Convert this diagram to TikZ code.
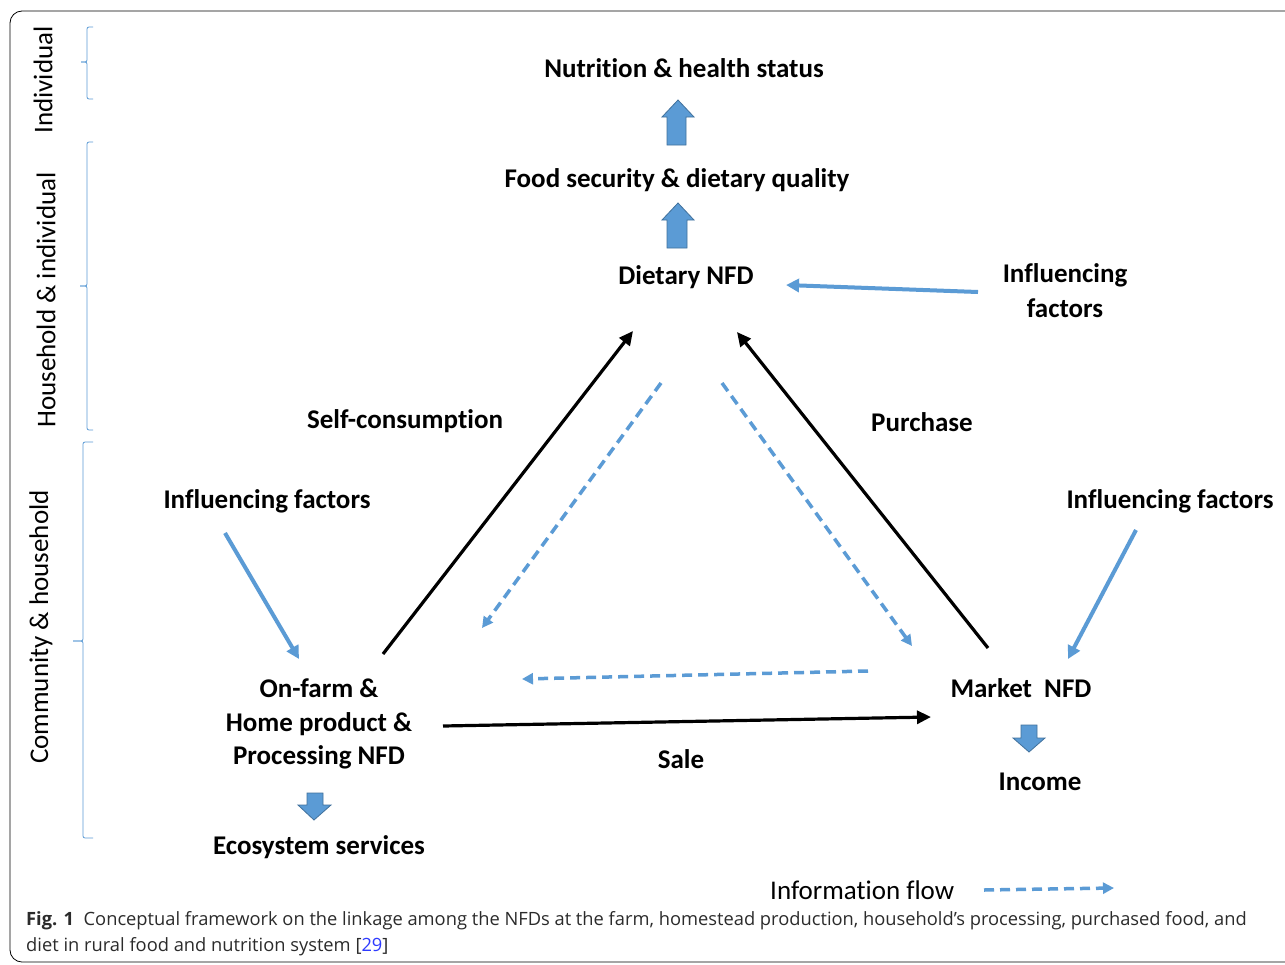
\documentclass[tikz,border=0pt]{standalone}
\usepackage{fontspec}
\setmainfont{Carlito}[Ligatures=NoCommon]
\newfontfamily\capfont{Open Sans}
\usetikzlibrary{arrows.meta}
\definecolor{flowblue}{HTML}{5B9BD5}
\definecolor{flowedge}{HTML}{41719C}
\definecolor{capgray}{HTML}{2B2B2B}
\definecolor{refblue}{HTML}{2E3BFF}
\begin{document}
\begin{tikzpicture}[x=1pt,y=-1pt,
  lbl/.style={font=\fontsize{27}{35}\selectfont\bfseries, align=center, inner sep=0pt},
  lvl/.style={font=\fontsize{27}{32}\selectfont, rotate=90, inner sep=0pt},
  blackarrow/.style={draw=black, line width=3.2pt, -{Triangle[length=14pt,width=13pt]}},
  bluearrow/.style={draw=flowblue, line width=4pt, -{Triangle[length=13pt,width=13pt]}},
  infoarrow/.style={draw=flowblue, line width=3.5pt, dash pattern=on 10pt off 6pt, -{Triangle[length=11pt,width=11pt]}},
  levelbrace/.style={draw=flowblue, line width=0.8pt},
  blockarrow/.style={fill=flowblue, draw=flowedge, line width=0.8pt, line join=miter}
]
\useasboundingbox (0,0) rectangle (1285,964);
\fill[white] (0,0) rectangle (1285,964);

% frame
\draw[black, line width=0.8pt, rounded corners=12pt] (10,11) rectangle (1310,962);

% levels on the left
\node[lvl] (lvlind) at (43,80) {Individual};
\node[lvl] (lvlhh) at (46,300) {Household \& individual};
\node[lvl] (lvlcom) at (41,627) {Community \& household};

\draw[levelbrace, rounded corners=2pt] (93,27) -- (87,27) -- (87,62) -- (81,62);
\draw[levelbrace, rounded corners=2pt] (81,62) -- (87,62) -- (87,99) -- (93,99);
\draw[levelbrace, rounded corners=2pt] (93,142) -- (87,142) -- (87,286) -- (80,286);
\draw[levelbrace, rounded corners=2pt] (80,286) -- (87,286) -- (87,430) -- (93,430);
\draw[levelbrace, rounded corners=2pt] (93,442) -- (83,442) -- (83,641) -- (73,641);
\draw[levelbrace, rounded corners=2pt] (73,641) -- (83,641) -- (83,838) -- (93,838);

% outcome nodes
\node[lbl] (nutr) at (684,68) {Nutrition \& health status};
\node[lbl] (food) at (677,180) {Food security \& dietary quality};
\node[lbl] (diet) at (686,277) {Dietary NFD};
\node[lbl] (inftop) at (1065,291) {Influencing\\factors};
\node[lbl] (self) at (405,421) {Self-consumption};
\node[lbl] (purch) at (922,422) {Purchase};
\node[lbl] (infleft) at (267,501) {Influencing factors};
\node[lbl] (infright) at (1170,501) {Influencing factors};
\node[lbl, font=\fontsize{27}{33.5}\selectfont\bfseries] (farm) at (319,724) {On-farm \&\\Home product \&\\Processing NFD};
\node[lbl] (market) at (1021,688) {Market\ \ NFD};
\node[lbl] (sale) at (681,759) {Sale};
\node[lbl] (income) at (1040,782) {Income};
\node[lbl] (eco) at (319,847) {Ecosystem services};

% block arrows
\draw[blockarrow] (667,145) -- (667,117) -- (662,117) -- (678,100) -- (694,117) -- (686,117) -- (686,145) -- cycle;
\draw[blockarrow] (667,248) -- (667,220) -- (662,220) -- (678,203) -- (694,220) -- (687,220) -- (687,248) -- cycle;
\draw[blockarrow] (1021,725) -- (1037,725) -- (1037,738) -- (1045,738) -- (1029,752) -- (1013,738) -- (1021,738) -- cycle;
\draw[blockarrow] (307,793) -- (323,793) -- (323,805) -- (331,805) -- (314,820) -- (298,805) -- (307,805) -- cycle;

% connector end points
\coordinate (dietL) at (633,331);
\coordinate (dietR) at (737,332);
\coordinate (farmT) at (383,654);
\coordinate (farmR) at (443,726);
\coordinate (marketT) at (988,648);
\coordinate (marketL) at (931,717);
\coordinate (inftopS) at (978,292);
\coordinate (dietE) at (786,285);
\coordinate (infleftS) at (225,533);
\coordinate (farmN) at (299,659);
\coordinate (infrightS) at (1136,530);
\coordinate (marketN) at (1068,659);
\coordinate (diLs) at (661,383);
\coordinate (diLe) at (482,628);
\coordinate (diRs) at (722,383);
\coordinate (diRe) at (912,646);
\coordinate (mkLs) at (868,671);
\coordinate (mkLe) at (522,679);

% material flows
\draw[blackarrow] (farmT) -- (dietL);
\draw[blackarrow] (marketT) -- (dietR);
\draw[blackarrow] (farmR) -- (marketL);

% influencing factors
\draw[bluearrow] (inftopS) -- (dietE);
\draw[bluearrow] (infleftS) -- (farmN);
\draw[bluearrow] (infrightS) -- (marketN);

% information flows
\draw[infoarrow] (diLs) -- (diLe);
\draw[infoarrow] (diRs) -- (diRe);
\draw[infoarrow] (mkLs) -- (mkLe);

% legend
\node[font=\fontsize{27}{32}\selectfont, anchor=west, inner sep=0pt] (legend) at (770,890) {Information flow};
\coordinate (legS) at (984,890);
\coordinate (legE) at (1114,888);
\draw[infoarrow] (legS) -- (legE);

% caption
\node[anchor=base west, inner sep=0pt, text=capgray,
      font=\capfont\fontsize{18.3}{26}\selectfont] (caption1) at (26,925)
  {\textbf{Fig. 1}\ \ Conceptual framework on the linkage among the NFDs at the farm, homestead production, household’s processing, purchased food, and};
\node[anchor=base west, inner sep=0pt, text=capgray,
      font=\capfont\fontsize{18.3}{26}\selectfont] (caption2) at (26,951)
  {diet in rural food and nutrition system [\textcolor{refblue}{29}]};
\end{tikzpicture}
\end{document}
